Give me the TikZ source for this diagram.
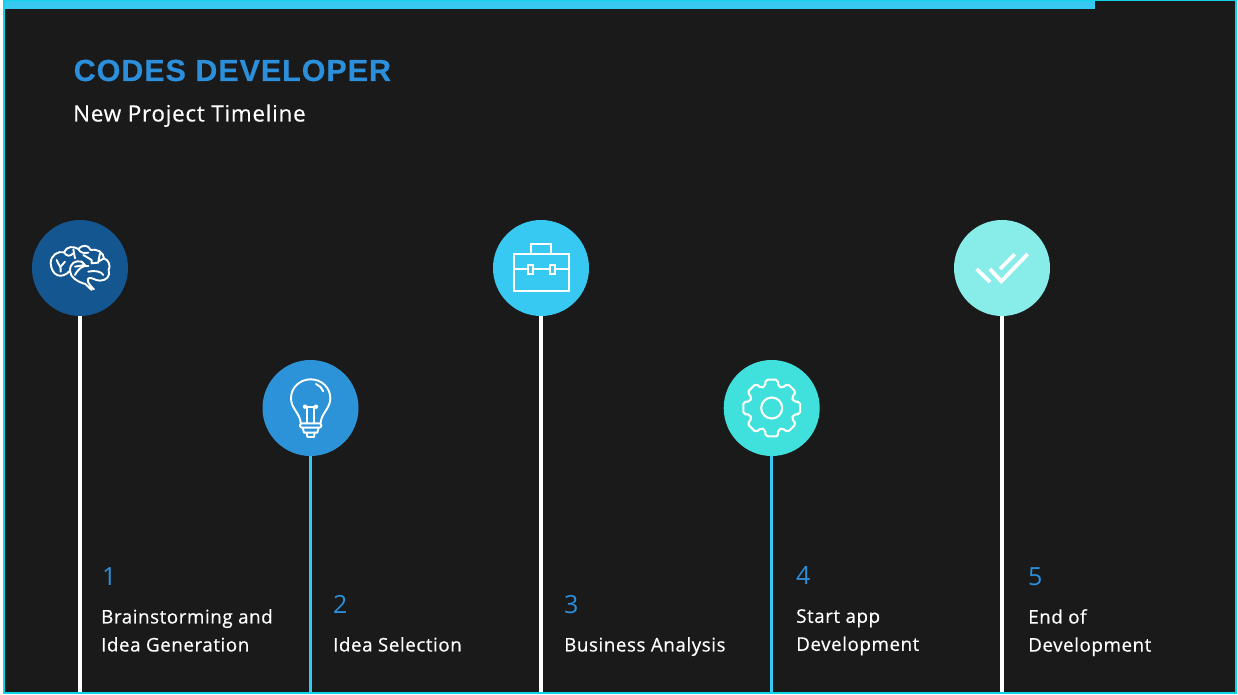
\documentclass[tikz,border=0pt]{standalone}
\usepackage{fontspec}
\setmainfont{Open Sans}
\newfontfamily\titlefont{Liberation Sans}
\definecolor{bgdark}{HTML}{1A1A1A}
\definecolor{edge}{HTML}{0FD4E8}
\definecolor{topbar}{HTML}{38C9F2}
\definecolor{cone}{HTML}{14568F}
\definecolor{ctwo}{HTML}{2D93D9}
\definecolor{cthree}{HTML}{38C9F2}
\definecolor{cfour}{HTML}{40E0DC}
\definecolor{cfive}{HTML}{88ECE8}
\definecolor{numblue}{HTML}{2B8FDB}
\tikzset{
  disc/.style={circle,minimum size=96pt,inner sep=0pt,draw=none},
  stem/.style={line width=4pt,white},
  stemthin/.style={line width=3pt,topbar},
  num/.style={anchor=base west,inner sep=0pt,text=numblue,font=\fontsize{25}{25}\selectfont},
  lab/.style={anchor=north west,inner sep=0pt,text=white,align=left,font=\fontsize{18.8}{28}\selectfont\addfontfeatures{LetterSpace=2.9,FakeBold=0.5}},
  ico/.style={draw=white,line width=2pt,line join=round,line cap=round},
}
\begin{document}
\begin{tikzpicture}[x=1pt,y=-1pt]
\useasboundingbox (0,0) rectangle (1238,695);
\fill[white] (0,0) rectangle (1238,695);
\fill[edge] (3,0) rectangle (1237,694);
\fill[bgdark] (5,1) rectangle (1235,692);
\fill[topbar] (5,1) rectangle (1095,9);

\node[anchor=base west,inner sep=0pt,text=numblue,font=\titlefont\fontsize{30.5}{32}\selectfont\bfseries\addfontfeatures{LetterSpace=3.1,FakeBold=0.4}] (title) at (73.5,81) {CODES DEVELOPER};
\node[anchor=base west,inner sep=0pt,text=white,font=\fontsize{22.5}{24}\selectfont\addfontfeatures{LetterSpace=3.1,FakeBold=0.3}] (sub) at (73,121.5) {New Project Timeline};

\coordinate (e1) at (80,692);
\coordinate (e2) at (310.5,692);
\coordinate (e3) at (541,692);
\coordinate (e4) at (771.7,692);
\coordinate (e5) at (1002,692);

\node[disc,fill=cone] (c1) at (80,268) {};
\node[disc,fill=ctwo] (c2) at (310.5,408) {};
\node[disc,fill=cthree] (c3) at (541,268) {};
\node[disc,fill=cfour] (c4) at (771.7,408) {};
\node[disc,fill=cfive] (c5) at (1002,268) {};

\draw[stem] (c1.south) -- (e1);
\draw[stemthin] (c2.south) -- (e2);
\draw[stem] (c3.south) -- (e3);
\draw[line width=3.5pt,topbar] (c4.south) -- (e4);
\draw[stem] (c5.south) -- (e5);

% brain
\begin{scope}[shift={(20,210)},x=0.3333pt,y=-0.3333pt,ico,line width=1.9pt]
\draw (215,240) -- (196,222) .. controls (170,215) and (150,200) .. (150,182)
 .. controls (125,210) and (95,198) .. (92,160)
 .. controls (92,135) and (115,122) .. (132,127)
 .. controls (140,108) and (160,108) .. (175,117)
 .. controls (190,102) and (205,105) .. (212,120)
 .. controls (235,116) and (250,128) .. (252,145)
 .. controls (268,150) and (272,170) .. (266,180)
 .. controls (272,197) and (260,212) .. (240,212)
 .. controls (225,212) and (215,200) .. (205,205)
 .. controls (200,212) and (205,222) .. (222,238);
\draw (150,182) .. controls (150,160) and (165,150) .. (185,155);
\draw (132,127) .. controls (140,140) and (150,140) .. (160,130);
\draw (160,118) -- (165,145);
\draw (110,150) .. controls (115,165) and (125,170) .. (122,185);
\draw (122,170) -- (135,155);
\draw (175,117) .. controls (180,130) and (195,130) .. (205,128);
\draw (190,135) -- (215,150) -- (215,160) -- (235,158);
\draw (240,130) -- (235,155) -- (252,145);
\draw (165,195) .. controls (175,175) and (190,165) .. (205,168);
\draw (205,185) .. controls (225,180) and (245,185) .. (250,195);
\draw (185,155) -- (195,165) -- (165,170);
\end{scope}

% bulb
\begin{scope}[shift={(250,350)},x=0.3333pt,y=-0.3333pt,ico,line width=1.9pt]
\draw (152,218) .. controls (150,190) and (123,175) .. (123,145)
 .. controls (123,112) and (150,88) .. (182,88)
 .. controls (214,88) and (241,112) .. (241,145)
 .. controls (241,175) and (214,190) .. (212,218);
\draw (198,102) .. controls (208,106) and (216,114) .. (220,124);
\draw (172,220) -- (172,170) (192,220) -- (192,170);
\draw (165,172) -- (199,172);
\fill[white] (165,170) circle (2.2pt) (198,170) circle (2.2pt);
\draw[rounded corners=2pt] (150,220) rectangle (214,233);
\draw (158,233) -- (162,248) -- (202,248) -- (206,233);
\draw (170,248) -- (172,261) -- (192,261) -- (194,248);
\end{scope}

% briefcase
\begin{scope}[shift={(480,210)},x=0.3333pt,y=-0.3333pt,ico,line cap=butt,line join=miter,line width=2pt]
\draw (101,132) rectangle (266,243);
\draw (154,132) -- (154,101) -- (212,101) -- (212,132);
\draw (101,177) -- (144,177) (158,177) -- (209,177) (224,177) -- (266,177);
\draw (144,164) rectangle (158,193);
\draw (209,164) rectangle (224,193);
\end{scope}

% gear
\begin{scope}[shift={(771.7,408)},x=0.3333pt,y=-0.3333pt,ico,line width=2.1pt]
\draw[rounded corners=2pt] (90-12:87)
 \foreach \a in {90,135,...,405}{
   -- (\a+12:87) -- (\a+17:68) -- (\a+28:68) -- (\a+33:87)
 } -- cycle;
\draw (0,0) circle (10.5pt);
\end{scope}

% double check
\begin{scope}[shift={(942,210)},x=0.3333pt,y=-0.3333pt,ico,line cap=butt,line join=miter,line width=3.8pt]
\draw (104,177) -- (144,216);
\draw (144,177) -- (178,214) -- (257,132);
\draw (174,177) -- (218,133);
\end{scope}

\node[num] (n1) at (102,585) {1};
\node[lab] (t1) at (101,609) {Brainstorming and\\Idea Generation};
\node[num] (n2) at (333,613) {2};
\node[lab] (t2) at (333,637) {Idea Selection};
\node[num] (n3) at (564,613) {3};
\node[lab] (t3) at (564,637) {Business Analysis};
\node[num] (n4) at (796,584) {4};
\node[lab] (t4) at (796,609) {Start app\\Development};
\node[num] (n5) at (1028,585) {5};
\node[lab] (t5) at (1028,609) {End of\\Development};
\end{tikzpicture}
\end{document}
